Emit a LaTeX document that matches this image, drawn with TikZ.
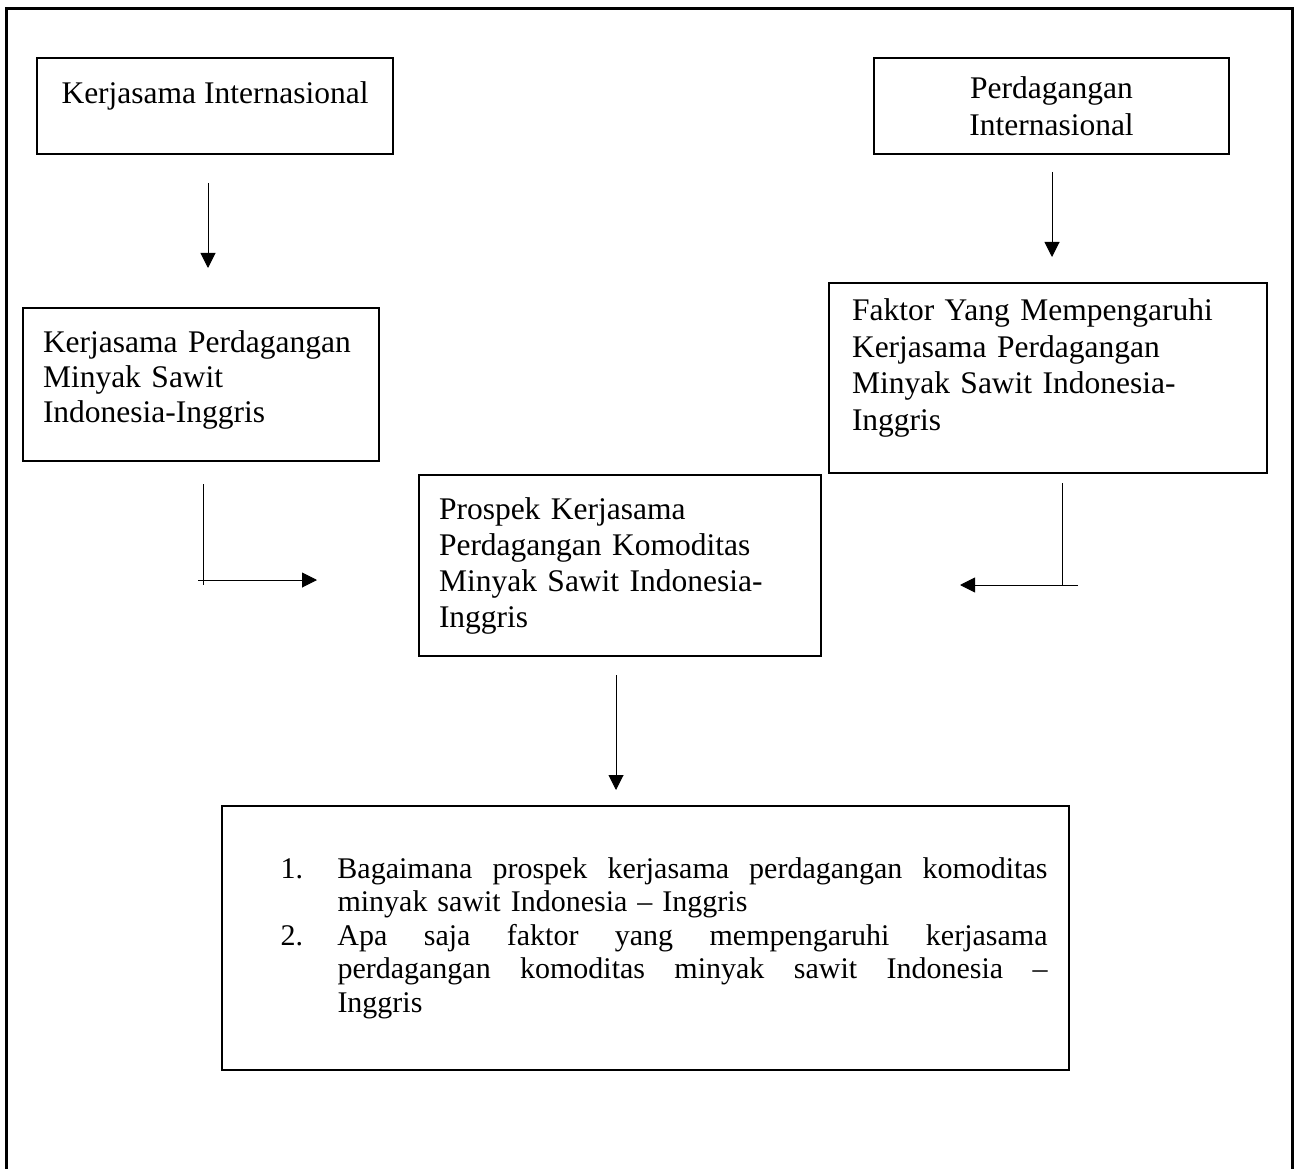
\documentclass[tikz,border=0pt]{standalone}
\usepackage{fontspec}
\setmainfont{Liberation Serif}
\usetikzlibrary{arrows.meta,calc}
\newcommand\justline[2][710pt]{\makebox[#1][l]{\hbox to #1{\spaceskip=0.25em plus 1fil\relax #2}}}
\begin{document}
\begin{tikzpicture}[x=1pt,y=-1pt,
  box/.style={draw, line width=2pt, inner sep=0pt, anchor=north west,
    font=\fontsize{31.5}{35}\selectfont},
  arr/.style={line width=1pt, -{Triangle[length=15pt,width=15pt]}},
  ln/.style={line width=1pt}]
\useasboundingbox (0,0) rectangle (1296,1169);
% outer frame (open at the bottom)
\draw[line width=3pt] (6,1175) -- (6,9) -- (1292,9) -- (1292,1175);

\node[box, minimum width=356pt, minimum height=96pt] (b1) at (36,57)
  {Kerjasama Internasional\rule[-27pt]{0pt}{1pt}};
\node[box, minimum width=355pt, minimum height=96pt, align=center,
  font=\fontsize{31.5}{37}\selectfont] (b2) at (873,57)
  {Perdagangan\\Internasional};
\node[box, minimum width=356pt, minimum height=153pt, text width=316pt, align=left] (b3) at (22,307)
  {Kerjasama~Perdagangan\\Minyak~Sawit\\Indonesia-Inggris\rule[-15pt]{0pt}{1pt}};
\node[box, minimum width=438pt, minimum height=190pt, text width=392pt, align=left,
  font=\fontsize{31.5}{36.5}\selectfont] (b4) at (828,282)
  {Faktor~Yang~Mempengaruhi\\Kerjasama~Perdagangan\\Minyak~Sawit~Indonesia-\\Inggris\rule[-27pt]{0pt}{1pt}};
\node[box, minimum width=402pt, minimum height=181pt, text width=362pt, align=left,
  font=\fontsize{31.5}{36}\selectfont] (b5) at (418,474)
  {Prospek~Kerjasama\\Perdagangan~Komoditas\\Minyak~Sawit~Indonesia-\\Inggris};
\node[box, minimum width=847pt, minimum height=264pt, text width=810pt, align=left,
  font=\fontsize{30}{33.5}\selectfont] (b6) at (221,805)
  {\hspace*{40pt}\makebox[57pt][l]{1.}\justline{Bagaimana prospek kerjasama perdagangan komoditas}\\
   \hspace*{97pt}minyak sawit Indonesia – Inggris\\
   \hspace*{40pt}\makebox[57pt][l]{2.}\justline{Apa saja faktor yang mempengaruhi kerjasama}\\
   \hspace*{97pt}\justline{perdagangan komoditas minyak sawit Indonesia –}\\
   \hspace*{97pt}Inggris};

% connectors
\draw[arr] ($(b1.south)+(-7,28)$) -- ($(b3.north)+(7,-39)$);
\draw[arr] ($(b2.south)+(0.5,17)$) -- ($(b4.north)+(4,-25)$);
\draw[ln] ($(b3.south)+(2,22)$) -- ($(b3.south)+(2,123)$);
\draw[arr] ($(b5.west)+(-220,14.5)$) -- ($(b5.west)+(-101,14.5)$);
\draw[ln] ($(b4.south)+(14,9)$) -- ($(b4.south)+(14,111)$);
\draw[arr] ($(b5.east)+(256,19.5)$) -- ($(b5.east)+(138,19.5)$);
\draw[arr] ($(b5.south)+(-4,18)$) -- ($(b6.north)+(-29.5,-15)$);
\end{tikzpicture}
\end{document}
